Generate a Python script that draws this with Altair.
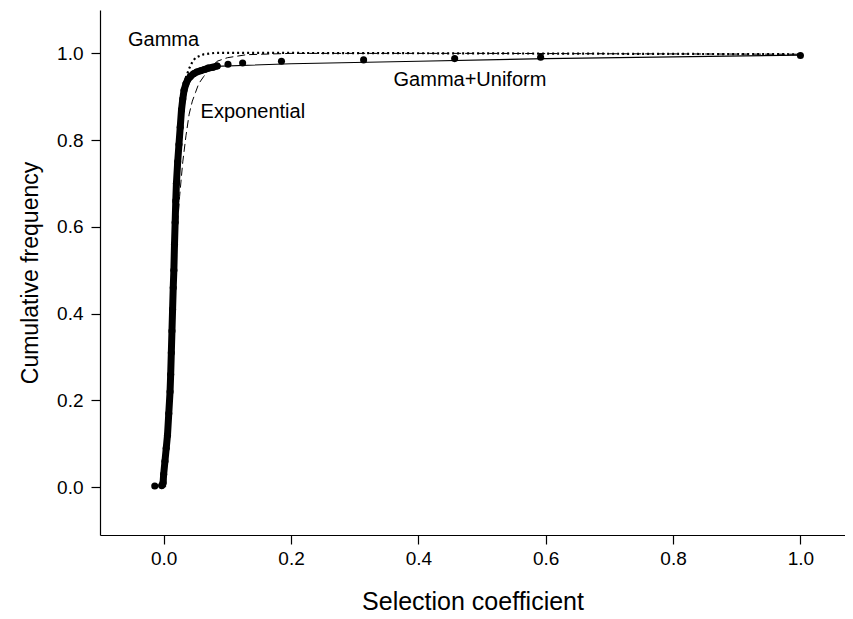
import altair as alt
import pandas as pd

emp_s = [-0.014, -0.003, -0.001, 0.000, 0.002, 0.004, 0.006, 0.008, 0.010, 0.011,
         0.012, 0.013, 0.014, 0.015, 0.016, 0.017, 0.018, 0.019, 0.020, 0.022,
         0.024, 0.026, 0.028, 0.030, 0.032, 0.035, 0.038, 0.042, 0.047, 0.052,
         0.058, 0.064, 0.070, 0.077, 0.084, 0.101, 0.124, 0.185, 0.314, 0.457,
         0.592, 1.000]
emp_f = [0.003, 0.004, 0.010, 0.030, 0.060, 0.090, 0.120, 0.170, 0.220, 0.260,
         0.310, 0.360, 0.410, 0.460, 0.500, 0.560, 0.610, 0.660, 0.700, 0.750,
         0.790, 0.830, 0.870, 0.895, 0.915, 0.930, 0.940, 0.947, 0.953, 0.957,
         0.960, 0.963, 0.966, 0.968, 0.971, 0.975, 0.978, 0.982, 0.985, 0.988,
         0.991, 0.995]

# Fitted curves
gamma_s = [0.000, 0.005, 0.010, 0.015, 0.020, 0.025, 0.030, 0.035, 0.040, 0.045,
           0.050, 0.063, 0.080, 0.200, 0.500, 1.000]
gamma_f = [0.000, 0.090, 0.250, 0.450, 0.630, 0.780, 0.890, 0.945, 0.965, 0.980,
           0.990, 0.998, 1.001, 1.001, 1.000, 0.998]

expo_s = [0.003, 0.006, 0.010, 0.015, 0.020, 0.025, 0.030, 0.035, 0.040, 0.045,
          0.050, 0.055, 0.063, 0.070, 0.084, 0.100, 0.130, 0.200, 0.500, 1.000]
expo_f = [0.000, 0.140, 0.290, 0.450, 0.570, 0.670, 0.750, 0.810, 0.860, 0.890,
          0.910, 0.930, 0.947, 0.960, 0.982, 0.990, 0.997, 1.000, 1.000, 0.998]

gu_s = [0.000, 0.005, 0.010, 0.015, 0.020, 0.025, 0.030, 0.035, 0.040, 0.045,
        0.050, 0.060, 0.080, 0.200, 0.400, 0.600, 0.800, 1.000]
gu_f = [0.000, 0.080, 0.220, 0.420, 0.600, 0.750, 0.850, 0.910, 0.940, 0.955,
        0.962, 0.967, 0.970, 0.976, 0.982, 0.988, 0.992, 0.996]

labels = ["Gamma", "Exponential", "Gamma+Uniform"]
label_s = [-0.056, 0.058, 0.361]
label_f = [1.032, 0.866, 0.938]

emp = pd.DataFrame({"s": emp_s, "f": emp_f})
dense = emp[(emp.s > -0.01) & (emp.s < 0.09)]
gam = pd.DataFrame({"s": gamma_s, "f": gamma_f})
exp_ = pd.DataFrame({"s": expo_s, "f": expo_f})
gu = pd.DataFrame({"s": gu_s, "f": gu_f})
lab = pd.DataFrame({"t": labels, "s": label_s, "f": label_f})

xs = alt.Scale(domain=[-0.1, 1.07], nice=False, zero=False)
ys = alt.Scale(domain=[-0.11, 1.10], nice=False, zero=False)

xax = alt.Axis(values=[0, 0.2, 0.4, 0.6, 0.8, 1.0], format=".1f", grid=False,
               title="Selection coefficient", tickSize=9, labelPadding=5,
               titlePadding=21, titleFontSize=25)
yax = alt.Axis(values=[0, 0.2, 0.4, 0.6, 0.8, 1.0], format=".1f", grid=False,
               title="Cumulative frequency", tickSize=9, labelPadding=8,
               titlePadding=14, titleFontSize=23)

X = alt.X("s:Q", scale=xs, axis=xax)
Y = alt.Y("f:Q", scale=ys, axis=yax)

gamma_line = alt.Chart(gam).mark_line(color="black", strokeWidth=2.2,
                                      strokeDash=[2, 3]).encode(x=X, y=Y, order="s:Q")
expo_line = alt.Chart(exp_).mark_line(color="black", strokeWidth=1,
                                      strokeDash=[8, 4]).encode(x=X, y=Y, order="s:Q")
gu_line = alt.Chart(gu).mark_line(color="black", strokeWidth=1.1).encode(x=X, y=Y, order="s:Q")

dense_line = alt.Chart(dense).mark_line(color="black", strokeWidth=7,
                                        strokeCap="round", strokeJoin="round").encode(
    x=X, y=Y, order="s:Q")
pts = alt.Chart(emp).mark_circle(color="black", opacity=1, size=50).encode(x=X, y=Y)

txt = alt.Chart(lab).mark_text(align="left", baseline="middle", fontSize=20,
                               font="Liberation Sans", color="black").encode(
    x=alt.X("s:Q", scale=xs), y=alt.Y("f:Q", scale=ys), text="t:N")

chart = alt.layer(gamma_line, expo_line, gu_line, dense_line, pts, txt).properties(
    width=745, height=525,
    autosize=alt.AutoSizeParams(type="none"),
    padding={"left": 92, "top": 2, "right": 0, "bottom": 84},
).configure_view(stroke=None).configure_axis(
    domainColor="black", tickColor="black", labelColor="black", titleColor="black",
    labelFont="Liberation Sans", titleFont="Liberation Sans",
    labelFontSize=19, titleFontWeight="normal",
    domainWidth=1.2, tickWidth=1.2,
)

chart.save("out.html", embed_options={"renderer": "svg", "actions": False})
